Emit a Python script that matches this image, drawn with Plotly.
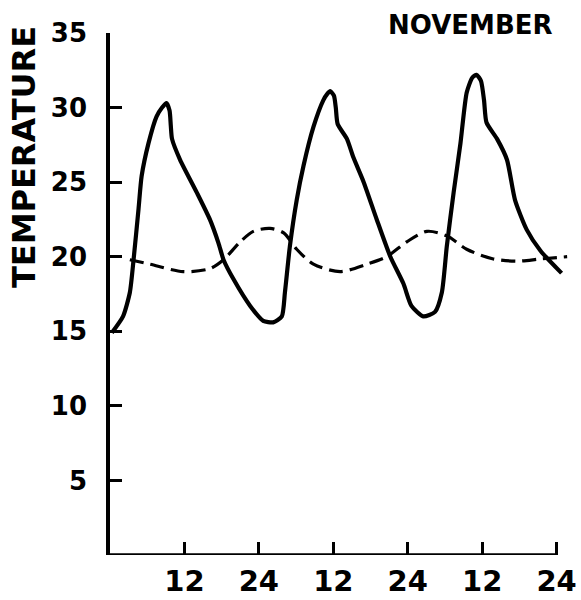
import plotly.graph_objects as go

# Hourly air temperature (solid) and soil/burrow temperature (dashed) over three November days
hours_air = [0.3, 2.1, 3.2, 3.8, 4.6, 5.1, 6.2, 7.5, 8.4, 9.1, 9.6, 9.8, 10.0, 11.3, 14.0, 16.1, 17.5, 18.3,
             19.9, 22.6, 24.7, 26.3, 27.7, 28.2, 29.0, 30.1, 31.2, 32.8, 34.4, 35.0, 35.5, 36.1, 36.4, 36.7,
             38.2, 39.2, 40.9, 43.0, 45.2, 47.3, 48.6, 50.5, 52.4, 53.5, 54.3, 55.4, 56.5, 57.5,
             58.4, 59.1, 59.8, 60.3, 60.7, 62.4, 64.0, 65.3, 67.2, 69.4, 72.8]
temp_air = [14.9, 16.0, 17.6, 19.8, 23.2, 25.4, 27.6, 29.4, 30.0, 30.3, 29.8, 28.8, 27.9, 26.5, 24.3, 22.5, 20.9, 19.8,
            18.5, 16.7, 15.7, 15.6, 16.0, 17.6, 20.7, 23.8, 26.1, 28.7, 30.5, 30.9, 31.1, 30.8, 30.0, 28.9,
            27.9, 26.7, 25.0, 22.5, 20.0, 18.2, 16.7, 16.0, 16.3, 17.6, 20.7, 24.3, 27.6, 31.0,
            32.0, 32.2, 31.8, 30.5, 29.0, 27.9, 26.5, 23.8, 21.8, 20.4, 18.9]

hours_soil = [3.2, 6.45, 11.8, 16.1, 18.3, 21.0, 23.1, 25.8, 28.0, 30.1, 32.8, 37.1, 41.4, 44.6,
              47.85, 51.1, 54.3, 57.5, 61.8, 65.6, 69.4, 73.7]
temp_soil = [19.8, 19.5, 19.0, 19.2, 19.8, 21.0, 21.7, 21.9, 21.6, 20.5, 19.5, 19.0, 19.5, 20.0,
             21.0, 21.7, 21.4, 20.5, 19.85, 19.7, 19.85, 20.0]

x_ticks = [12, 24, 36, 48, 60, 72]
x_tick_text = ["12", "24", "12", "24", "12", "24"]
y_ticks = [5, 10, 15, 20, 25, 30, 35]

INK = "#000000"
FONT = "DejaVu Sans"

# plot-area geometry in pixels
W, H = 581, 600
ML, MR, MT, MB = 110, 12, 33, 45
plot_w = W - ML - MR
plot_h = H - MT - MB


def px_to_paper(px, py):
    return (px - ML) / plot_w, (H - MB - py) / plot_h


fig = go.Figure()
fig.add_trace(go.Scatter(
    x=hours_soil, y=temp_soil, mode="lines",
    line=dict(color=INK, width=3.2, dash="14px,7px", shape="spline", smoothing=0.8),
    showlegend=False, hoverinfo="skip",
))
fig.add_trace(go.Scatter(
    x=hours_air, y=temp_air, mode="lines",
    line=dict(color=INK, width=4.2, shape="spline", smoothing=0.6),
    showlegend=False, hoverinfo="skip",
))

# x axis baseline, from hour 0 to hour 72
fig.add_shape(type="line", xref="x", yref="y", x0=0, x1=72, y0=0, y1=0,
              line=dict(color=INK, width=3.5))

tx, ty = px_to_paper(24, 157)
nx, ny = px_to_paper(470, 25)

fig.update_layout(
    width=W, height=H,
    margin=dict(l=ML, r=MR, t=MT, b=MB),
    paper_bgcolor="white", plot_bgcolor="white",
    xaxis=dict(
        range=[0, 74], tickvals=x_ticks, ticktext=x_tick_text,
        ticks="inside", ticklen=13, tickwidth=3, tickcolor=INK,
        showline=False, showgrid=False, zeroline=False, automargin=False,
        tickfont=dict(family=FONT, size=29, color=INK, weight="bold"),
        ticklabelstandoff=6,
    ),
    yaxis=dict(
        range=[0, 35], tickvals=y_ticks,
        ticks="inside", ticklen=12, tickwidth=3, tickcolor=INK,
        showline=True, linecolor=INK, linewidth=3.5,
        showgrid=False, zeroline=False, automargin=False,
        tickfont=dict(family=FONT, size=26, color=INK, weight="bold"),
        ticklabelstandoff=14,
    ),
    annotations=[
        dict(text="TEMPERATURE", xref="paper", yref="paper", x=tx, y=ty,
             xanchor="center", yanchor="middle", textangle=-90, showarrow=False,
             font=dict(family=FONT, size=32, color=INK, weight="bold")),
        dict(text="NOVEMBER", xref="paper", yref="paper", x=nx, y=ny,
             xanchor="center", yanchor="middle", showarrow=False,
             font=dict(family=FONT, size=26, color=INK, weight="bold")),
    ],
)

fig.write_html("out.html")
